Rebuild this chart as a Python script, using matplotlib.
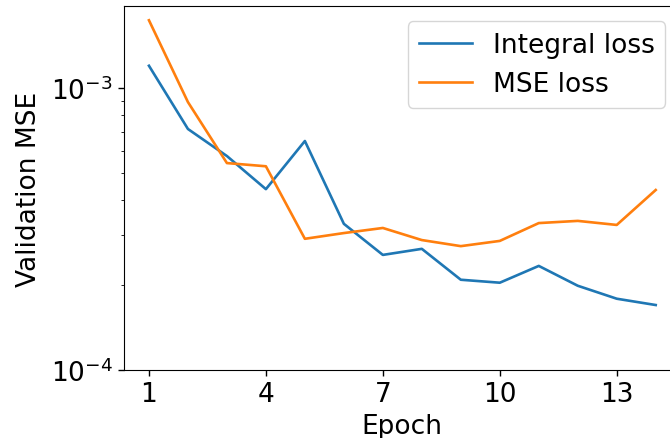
import numpy as np
import matplotlib
matplotlib.use("Agg")
import matplotlib.pyplot as plt

# validation curves
epochs = np.arange(1, 15)
integral_loss = [1.20e-3, 7.16e-4, 5.74e-4, 4.38e-4, 6.49e-4, 3.30e-4, 2.56e-4,
                 2.69e-4, 2.09e-4, 2.04e-4, 2.34e-4, 1.99e-4, 1.79e-4, 1.70e-4]
mse_loss = [1.74e-3, 8.92e-4, 5.42e-4, 5.28e-4, 2.92e-4, 3.06e-4, 3.19e-4,
            2.89e-4, 2.75e-4, 2.87e-4, 3.32e-4, 3.38e-4, 3.27e-4, 4.35e-4]
xticks = [1, 4, 7, 10, 13]

plt.rcParams['font.size'] = 19

fig = plt.figure(figsize=(6.7, 4.39), dpi=100)
ax = fig.add_axes([0.1845, 0.1549, 0.832, 0.8291])

ax.plot(epochs, integral_loss, color="#1f77b4", lw=1.9, label="Integral loss")
ax.plot(epochs, mse_loss, color="#ff7f0e", lw=1.9, label="MSE loss")
ax.set_yscale("log")
ax.set_ylim(bottom=1e-4)
ax.set_xticks(xticks)
ax.tick_params(length=4.5, width=1)
ax.tick_params(which="minor", length=2.5)
ax.set_xlabel("Epoch", labelpad=4)
ax.set_ylabel("Validation MSE", labelpad=6)
ax.legend(loc="upper right", bbox_to_anchor=(0.995, 0.994), fontsize=19)

fig.savefig("out.png", dpi=100)
